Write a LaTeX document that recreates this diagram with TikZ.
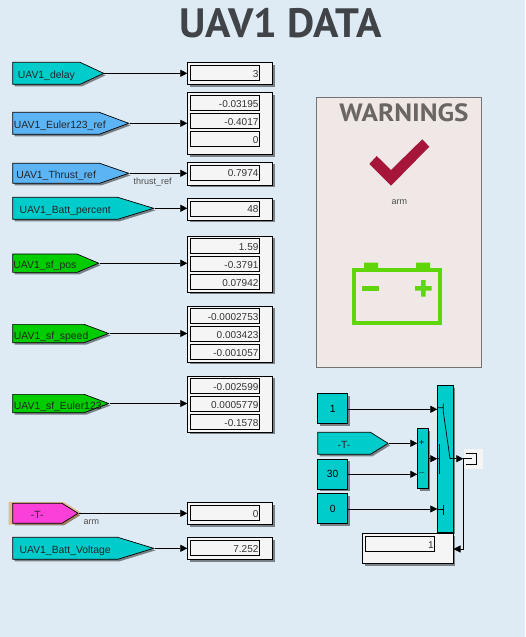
\documentclass[tikz,border=0pt]{standalone}
\usepackage{fontspec}
\setmainfont{Liberation Sans}
\newfontfamily\titlefont{PT Sans}[FakeStretch=1.025]
\newfontfamily\warnfont{PT Sans}[FakeStretch=1.085]
\usetikzlibrary{arrows.meta, positioning, calc, shapes.symbols, shadows}
\definecolor{panelbg}{RGB}{222,235,245}
\definecolor{warnbg}{RGB}{239,232,230}
\definecolor{tealblk}{RGB}{0,204,204}
\definecolor{bluetag}{RGB}{92,180,245}
\definecolor{greentag}{RGB}{0,204,0}
\definecolor{pinktag}{RGB}{250,64,216}
\definecolor{dispbg}{RGB}{245,245,245}
\definecolor{titlegray}{RGB}{64,68,72}
\definecolor{warngray}{RGB}{106,102,98}
\definecolor{checkred}{RGB}{165,22,58}
\definecolor{battgreen}{RGB}{96,214,10}
\tikzset{
  shad/.style  = {drop shadow={shadow xshift=2pt, shadow yshift=-2pt, fill=black, opacity=.45}},
  tagblk/.style = {draw, signal, signal to=east, shad, line width=0.7pt, anchor=west,
                   inner xsep=0pt, inner ysep=0pt, text height=11pt, text depth=0pt,
                   font=\fontsize{10.4}{12}\selectfont, text=black!85},
  disp/.style  = {draw, rectangle, shad, fill=dispbg, line width=0.8pt, anchor=north west,
                  minimum width=85pt, inner sep=0pt},
  val/.style   = {draw, rectangle, fill=dispbg, line width=0.8pt, anchor=north west,
                  minimum width=69pt, minimum height=15pt, inner xsep=1pt, inner ysep=0pt,
                  text width=67pt, text height=8.4pt, text depth=0pt, align=right,
                  font=\fontsize{10}{12}\selectfont, text=black!80},
  cnst/.style  = {draw, rectangle, shad, fill=tealblk, line width=0.8pt, anchor=north west,
                  minimum width=30pt, minimum height=30pt, inner sep=0pt,
                  font=\fontsize{10.4}{12}\selectfont},
  arr/.style   = {-{Triangle[length=7pt, width=7pt]}, line width=0.7pt},
  lbl/.style   = {font=\fontsize{9}{11}\selectfont, text=black!70, inner sep=0pt}
}

\begin{document}
\begin{tikzpicture}[x=1pt, y=-1pt]

  \useasboundingbox[fill=panelbg] (0,0) rectangle (525,637);

  % ── Title ─────────────────────────────────────────────────────────────────
  \node[font=\titlefont\bfseries\fontsize{41}{44}\selectfont, text=titlegray, inner sep=0pt] (title) at (280.5,23) {UAV1 DATA};

  % ── Tags ──────────────────────────────────────────────────────────────────
  \node[tagblk, fill=tealblk, minimum width=91pt, minimum height=22pt, signal pointer angle=50] (tDelay) at (12.3,73.3) {UAV1\_delay};
  \node[tagblk, fill=bluetag, minimum width=116pt, minimum height=22pt, signal pointer angle=41] (tEulerRef) at (12.3,123.3) {\makebox[86pt][l]{\hspace{1pt}UAV1\_Euler123\_ref}};
  \node[tagblk, fill=bluetag, minimum width=116pt, minimum height=20pt, signal pointer angle=38] (tThrust) at (12.3,173.3) {UAV1\_Thrust\_ref};
  \node[tagblk, fill=tealblk, minimum width=141pt, minimum height=22pt, signal pointer angle=34] (tBattPct) at (12.3,208.3) {UAV1\_Batt\_percent};
  \node[tagblk, fill=greentag, minimum width=86pt, minimum height=18.3pt, signal pointer angle=46] (tPos) at (12.3,263.2) {UAV1\_sf\_pos};
  \node[tagblk, fill=greentag, minimum width=96pt, minimum height=18.3pt, signal pointer angle=41] (tSpeed) at (12.3,333.5) {\makebox[71pt][l]{\hspace{1pt}UAV1\_sf\_speed}};
  \node[tagblk, fill=greentag, minimum width=96pt, minimum height=18.3pt, signal pointer angle=41] (tEuler) at (12.3,403.5) {\makebox[71pt][l]{\hspace{1pt}UAV1\_sf\_Euler123}};
  \node[tagblk, fill=pinktag, minimum width=65.4pt, minimum height=20pt, signal pointer angle=64,
        drop shadow={shadow xshift=0pt, shadow yshift=0pt, shadow scale=1.12, fill=orange!70!brown, opacity=.45}] (tArm) at (12.3,513.3) {-T-};
  \node[tagblk, fill=tealblk, minimum width=141pt, minimum height=22pt, signal pointer angle=34] (tVolt) at (12.3,548.3) {UAV1\_Batt\_Voltage};

  % ── Displays ──────────────────────────────────────────────────────────────
  \node[disp, minimum height=22pt] (dDelay) at (187.3,62.3) {};
  \node[val] (vDelay) at (190,65.3) {3};

  \node[disp, minimum height=62pt] (dEulerRef) at (187.3,92.3) {};
  \node[val] (vEulerRefA) at (190,95.3) {-0.03195};
  \node[val, below=2.2pt of vEulerRefA] (vEulerRefB) {-0.4017};
  \node[val, below=2.2pt of vEulerRefB] (vEulerRefC) {0};

  \node[disp, minimum height=23pt] (dThrust) at (187.3,161.8) {};
  \node[val] (vThrust) at (190,164.6) {0.7974};

  \node[disp, minimum height=22pt] (dBattPct) at (187.3,197.5) {};
  \node[val] (vBattPct) at (190,200.5) {48};

  \node[disp, minimum height=56pt] (dPos) at (187.3,235.5) {};
  \node[val] (vPosA) at (190,238.3) {1.59};
  \node[val, below=2.2pt of vPosA] (vPosB) {-0.3791};
  \node[val, below=2.2pt of vPosB] (vPosC) {0.07942};

  \node[disp, minimum height=56pt] (dSpeed) at (187.3,305.5) {};
  \node[val] (vSpeedA) at (190,308.3) {-0.0002753};
  \node[val, below=2.2pt of vSpeedA] (vSpeedB) {0.003423};
  \node[val, below=2.2pt of vSpeedB] (vSpeedC) {-0.001057};

  \node[disp, minimum height=56pt] (dEuler) at (187.3,375.5) {};
  \node[val] (vEulerA) at (190,378.3) {-0.002599};
  \node[val, below=2.2pt of vEulerA] (vEulerB) {0.0005779};
  \node[val, below=2.2pt of vEulerB] (vEulerC) {-0.1578};

  \node[disp, minimum height=22pt] (dArm) at (187.3,502.3) {};
  \node[val] (vArm) at (190,505.3) {0};

  \node[disp, minimum height=22pt] (dVolt) at (187.3,537.3) {};
  \node[val] (vVolt) at (190,540.3) {7.252};

  % ── Connections ───────────────────────────────────────────────────────────
  \draw[arr] (tDelay.east)    -- (tDelay.east -| dDelay.west);
  \draw[arr] (tEulerRef.east) -- (tEulerRef.east -| dEulerRef.west);
  \draw[arr] (tThrust.east)   -- (tThrust.east -| dThrust.west);
  \draw[arr] (tBattPct.east)  -- (tBattPct.east -| dBattPct.west);
  \draw[arr] (tPos.east)      -- (tPos.east -| dPos.west);
  \draw[arr] (tSpeed.east)    -- (tSpeed.east -| dSpeed.west);
  \draw[arr] (tEuler.east)    -- (tEuler.east -| dEuler.west);
  \draw[arr] (tArm.east)      -- (tArm.east -| dArm.west);
  \draw[arr] (tVolt.east)     -- (tVolt.east -| dVolt.west);

  \node[lbl, anchor=west] (lThrust) at (133.5,181.7) {thrust\_ref};
  \node[lbl, anchor=west] (lArm) at (83.5,522) {arm};

  % ── Warnings panel ────────────────────────────────────────────────────────
  \node[draw=black!55, fill=warnbg, line width=0.8pt, anchor=north west, minimum width=165pt, minimum height=270pt, inner sep=0pt] (warn) at (315.6,97.4) {};
  \node[font=\warnfont\bfseries\fontsize{25}{28}\selectfont, text=warngray, inner sep=0pt] (warnTitle) at (404,113) {WARNINGS};
  \fill[checkred] (369.3,164) -- (376.7,156) -- (391,170) -- (422.3,139.3) -- (429.3,146.7) -- (391,185.7) -- cycle;
  \node[lbl] (lCheck) at (399.3,202) {arm};

  % Battery
  \draw[battgreen, line width=4pt] (354,270.3) rectangle (440,323);
  \fill[battgreen] (364,262.7) rectangle (378,270) (416,262.7) rectangle (430,270);
  \fill[battgreen] (362.3,286) rectangle (379,290.7);
  \fill[battgreen] (415,286) rectangle (431.7,290.7) (421,280) rectangle (425.7,296.7);

  % ── Switch part ───────────────────────────────────────────────────────────
  \node[cnst] (cOne) at (317.3,393.3) {1};
  \node[cnst] (cThirty) at (317.3,458.5) {30};
  \node[cnst] (cZero) at (317.3,493.3) {0};
  \node[tagblk, fill=tealblk, minimum width=70.4pt, minimum height=22pt, signal pointer angle=64] (tT) at (317.3,443.3) {-T-};

  \node[draw, fill=tealblk, shad, line width=0.8pt, anchor=north west, minimum width=10.4pt, minimum height=60pt, inner sep=0pt] (rel) at (417.3,428.3) {};
  \node[draw, fill=tealblk, shad, line width=0.8pt, anchor=north west, minimum width=15.4pt, minimum height=146.4pt, inner sep=0pt] (sw) at (437.3,385.3) {};

  \node[font=\fontsize{9}{9}\selectfont, inner sep=0pt] (relPlus) at (421.7,443.3) {+};
  \node[font=\fontsize{9}{9}\selectfont, inner sep=0pt] (relMinus) at (421.7,473.3) {$-$};

  % switch glyph
  \draw[line width=0.7pt] (437.3,407.7) -- (443.3,407.7) (443.3,403.5) -- (443.3,411.7) -- (450,458.5) -- (452.7,458.5);
  \draw[line width=0.7pt] (437.3,458.5) -- (439.3,458.5) (439.3,444) -- (439.3,474);
  \draw[line width=0.7pt] (437.3,509) -- (443.3,509) (443.3,505) -- (443.3,515);

  % display and terminator
  \node[disp, minimum width=90.4pt, minimum height=30pt] (dSw) at (362.3,533.3) {};
  \node[val] (vSw) at (365.3,536.3) {1};

  \node[fill=dispbg, anchor=north west, minimum width=19.4pt, minimum height=20pt, inner sep=0pt] (term) at (463.3,449) {};
  \draw[line width=0.8pt] (465.7,453.7) -- (476.7,453.7) -- (476.7,464) -- (465.7,464) (463.3,458.7) -- (471.5,458.7);

  \draw[arr] (cOne.east |- 0,409.3) -- (sw.west |- 0,409.3);
  \draw[arr] (tT.east) -- (tT.east -| rel.west);
  \draw[arr] (cThirty.east |- 0,474.3) -- (rel.west |- 0,474.3);
  \draw[arr] (cZero.east |- 0,509) -- (sw.west |- 0,509);
  \draw[arr] (rel.east |- 0,458.7) -- (sw.west |- 0,458.7);
  \draw[arr] (sw.east |- 0,458.7) -- (term.west |- 0,458.7);
  \draw[arr] (term.west |- 0,458.7) -- (term.west |- 0,549) -- (dSw.east |- 0,549);

\end{tikzpicture}
\end{document}
